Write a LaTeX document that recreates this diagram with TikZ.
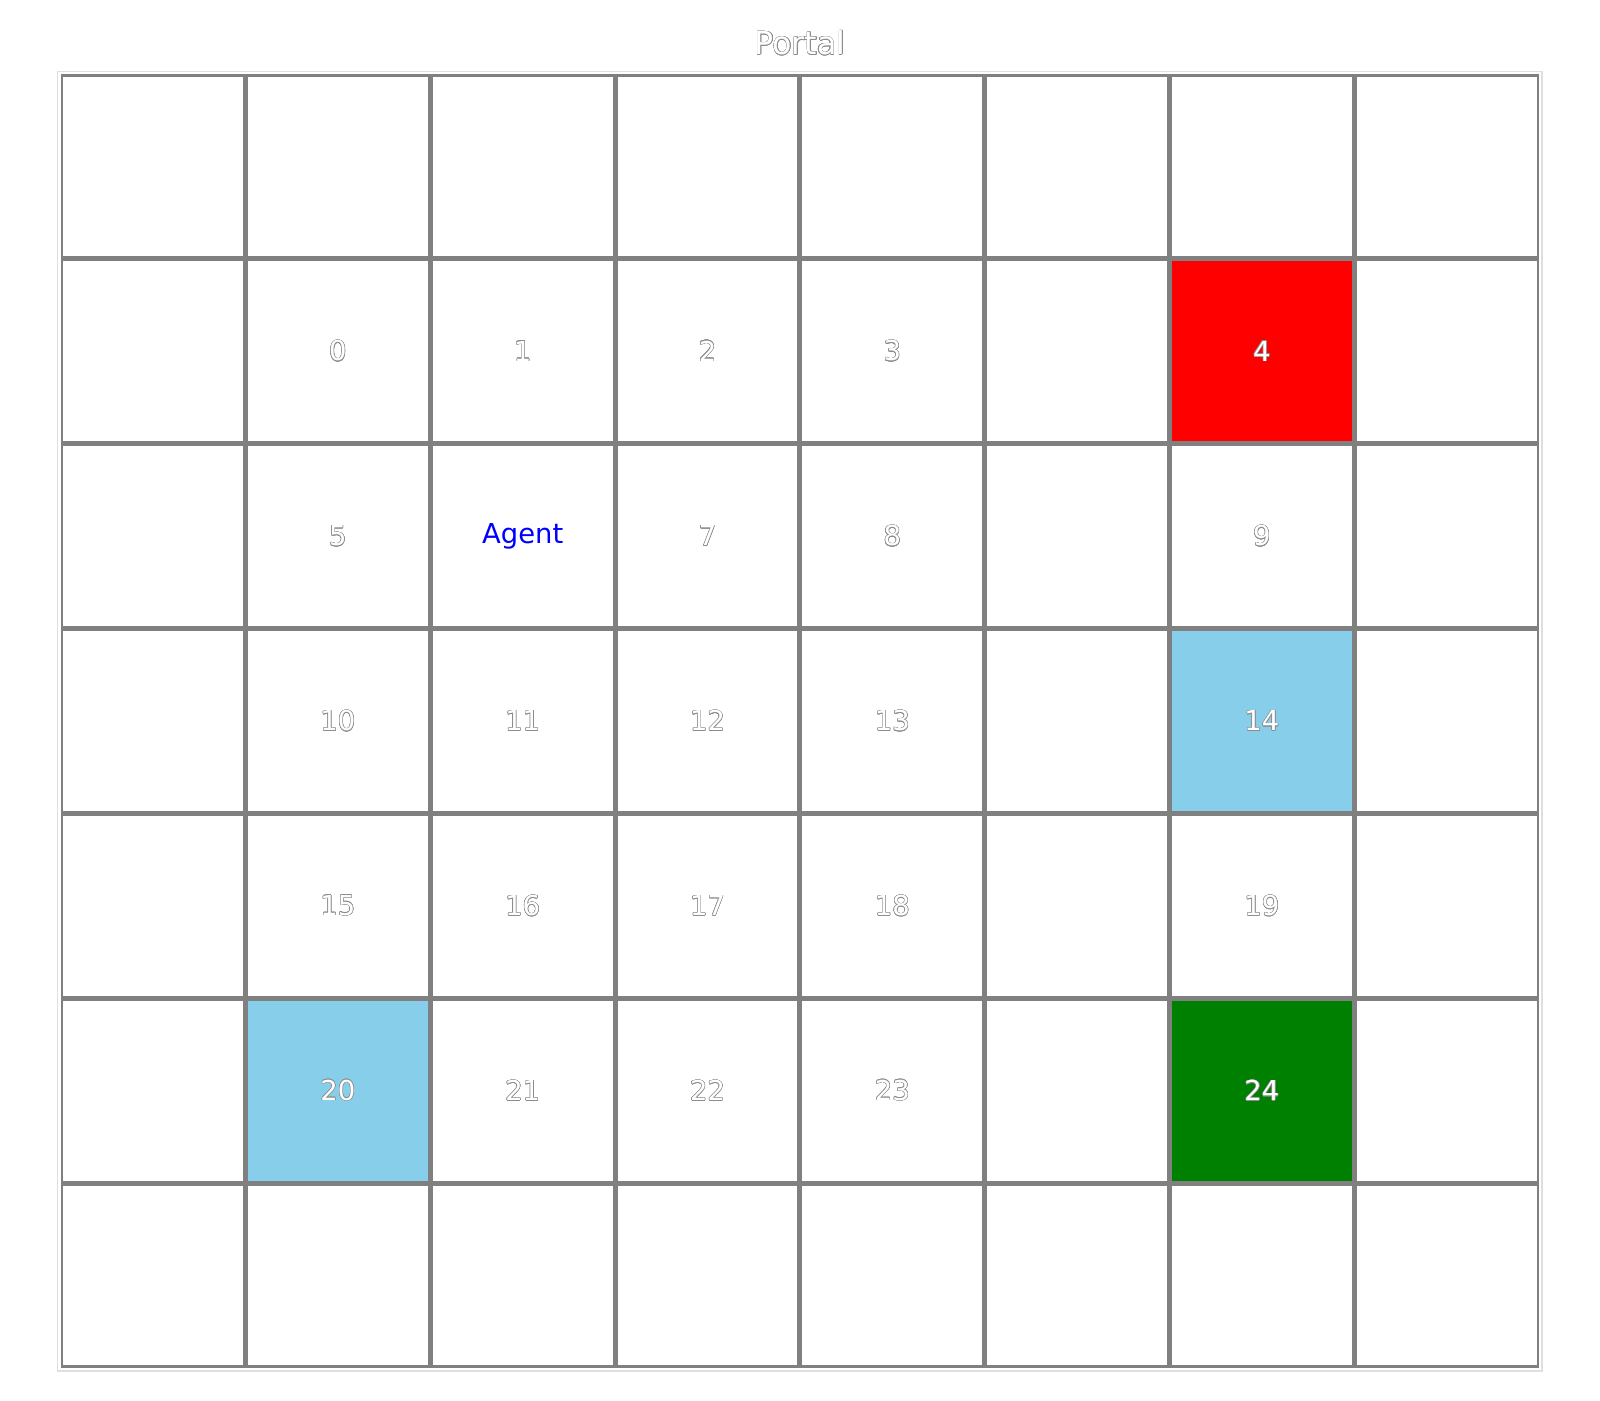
\documentclass[tikz,border=0pt]{standalone}
\usepackage{fontspec}
\setmainfont{DejaVu Sans}
\usepackage{contour}
\contourlength{0.15pt}
\definecolor{skyblu}{RGB}{135,206,235}
\definecolor{grn}{RGB}{0,128,0}
\definecolor{rd}{RGB}{255,0,0}
\definecolor{gridgray}{RGB}{128,128,128}
\definecolor{agentblue}{RGB}{0,0,255}
\newcommand{\wlab}[1]{{\color{white}\contour{gray!90}{#1}}}
\begin{document}
\begin{tikzpicture}[x=1cm,y=1cm,
  cell/.style={draw=gridgray, line width=0.71pt, minimum size=1.823cm, inner sep=0pt, outer sep=0pt, fill=white,
    font=\fontsize{7.8pt}{9pt}\selectfont},
  titletext/.style={inner sep=0pt, font=\fontsize{9pt}{11pt}\selectfont}]
\useasboundingbox (0,0) rectangle (16,-14);
\fill[white] (0,0) rectangle (16,-14);
% outer light frame
\draw[gray!25, line width=0.35pt] (0.573,-0.717) rectangle (15.42,-13.71);
% title
\node[titletext] (title) at (8.0,-0.43) {\wlab{Portal}};
% grid cells
\foreach \r in {0,...,6}{
  \foreach \c in {0,...,7}{
    \node[cell] (c-\r-\c) at ({0.607+1.848*(\c+0.5)}, {-0.74-1.8485*(\r+0.5)}) {};
  }
}
% coloured cells
\node[cell, fill=rd]    (g4)  at (c-1-6) {\wlab{4}};
\node[cell, fill=skyblu] (g14) at (c-3-6) {\wlab{14}};
\node[cell, fill=skyblu] (g20) at (c-5-1) {\wlab{20}};
\node[cell, fill=grn]   (g24) at (c-5-6) {\wlab{24}};
% labels
\foreach \r/\c/\t in {1/1/0,1/2/1,1/3/2,1/4/3,
                      2/1/5,2/3/7,2/4/8,2/6/9,
                      3/1/10,3/2/11,3/3/12,3/4/13,
                      4/1/15,4/2/16,4/3/17,4/4/18,4/6/19,
                      5/2/21,5/3/22,5/4/23}{
  \node[inner sep=0pt, font=\fontsize{7.8pt}{9pt}\selectfont] (l-\r-\c) at (c-\r-\c) {\wlab{\t}};
}
\node[inner sep=0pt, font=\fontsize{7.8pt}{9pt}\selectfont, text=agentblue] (agent) at (c-2-2) {Agent};
\end{tikzpicture}
\end{document}
